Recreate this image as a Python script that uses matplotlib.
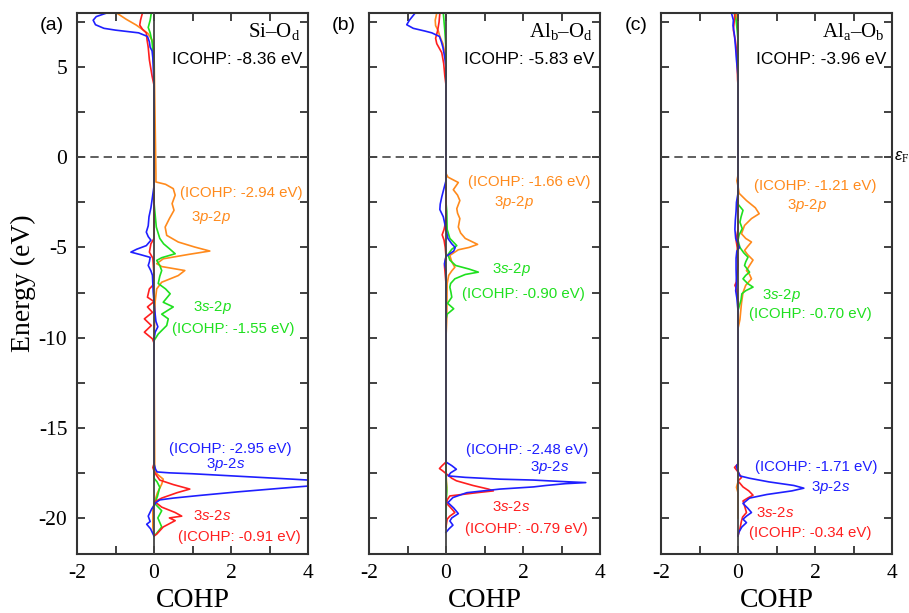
import matplotlib
matplotlib.use('Agg')
import matplotlib.pyplot as plt
from matplotlib.ticker import MultipleLocator

plt.rcParams['font.family'] = 'Liberation Serif'
plt.rcParams['mathtext.fontset'] = 'custom'
plt.rcParams['mathtext.rm'] = 'Liberation Serif'
plt.rcParams['mathtext.it'] = 'Liberation Sans:italic'
plt.rcParams['mathtext.sf'] = 'Liberation Sans'
plt.rcParams['axes.unicode_minus'] = False

# (energy eV, COHP) pairs, one list per orbital pair and panel
# panel (a) Si-Od
a_3s2s = [(8.0, -0.3), (7.6, -0.35), (7.33, -0.37), (7.1, -0.3), (6.9, -0.2), (6.5, -0.18),
          (6.1, -0.15), (5.4, -0.12), (4.5, -0.05), (4.0, 0.0),
          (-4.5, 0.0), (-4.8, -0.08), (-5.26, -0.12), (-5.6, -0.03), (-6.5, 0.0), (-7.1, -0.03),
          (-7.3, -0.12), (-7.76, -0.17), (-8.0, 0.0), (-8.3, -0.17), (-8.6, -0.04), (-8.96, -0.25),
          (-9.33, -0.07), (-9.7, -0.25), (-10.07, -0.04), (-10.3, 0.0),
          (-17.0, 0.0), (-17.2, -0.03), (-17.5, 0.02), (-17.9, 0.15), (-18.15, 0.5), (-18.4, 0.93),
          (-18.6, 0.6), (-18.9, 0.2), (-19.1, 0.02), (-19.4, 0.2), (-19.7, 0.55), (-19.9, 0.72),
          (-20.0, 0.4), (-20.15, 0.55), (-20.5, 0.24), (-20.9, 0.07), (-21.0, 0.0)]
a_3p2s = [(8.0, -1.23), (7.8, -1.5), (7.6, -1.58), (7.35, -1.52), (7.15, -1.3), (7.05, -1.0),
          (6.9, -0.4), (6.7, -0.17), (6.4, -0.12), (6.1, -0.1), (5.9, -0.05), (5.5, -0.03),
          (5.0, -0.02), (4.5, -0.01), (4.0, 0.0),
          (-1.6, 0.0), (-2.2, -0.04), (-2.8, -0.08), (-3.3, -0.13), (-3.8, -0.15), (-4.15, -0.2),
          (-4.4, -0.15), (-4.6, -0.08), (-4.9, -0.2), (-5.1, -0.45), (-5.26, -0.6), (-5.4, -0.35),
          (-5.55, -0.1), (-5.8, -0.12), (-6.0, -0.15), (-6.3, -0.08), (-6.55, -0.04), (-7.5, -0.02),
          (-8.5, 0.02), (-9.1, 0.05), (-9.4, 0.1), (-9.7, 0.03), (-10.1, 0.0),
          (-17.0, 0.0), (-17.3, 0.04), (-17.45, 0.08), (-17.5, 0.4), (-17.55, 1.0), (-17.7, 2.3),
          (-17.85, 3.6), (-18.0, 4.8), (-18.05, 5.0), (-18.1, 4.8), (-18.3, 3.6), (-18.55, 2.2),
          (-18.75, 1.2), (-18.9, 0.5), (-19.0, 0.15), (-19.15, 0.05), (-19.5, -0.06), (-19.9, -0.15),
          (-20.2, -0.1), (-20.35, -0.19), (-20.6, -0.09), (-21.0, 0.0)]
a_3s2p = [(8.0, -0.07), (7.6, -0.1), (7.2, -0.15), (6.9, -0.1), (6.4, -0.05), (5.0, 0.0),
          (-2.5, 0.0), (-3.87, 0.06), (-4.5, 0.15), (-4.8, 0.25), (-5.07, 0.4), (-5.35, 0.55),
          (-5.57, 0.2), (-5.72, 0.07), (-6.0, 0.15), (-6.28, 0.2), (-6.6, 0.15), (-7.0, 0.11),
          (-7.3, 0.3), (-7.57, 0.42), (-8.04, 0.24), (-8.3, 0.5), (-8.7, 0.2), (-8.96, 0.37),
          (-9.33, 0.33), (-9.8, 0.11), (-10.17, 0.0),
          (-17.8, 0.0), (-18.0, 0.08), (-18.3, 0.15), (-18.8, 0.09), (-19.2, 0.02), (-19.6, 0.2),
          (-20.0, 0.1), (-20.5, 0.2), (-20.9, 0.05), (-21.0, 0.0)]
a_3p2p = [(8.0, -0.97), (7.65, -0.72), (7.33, -0.46), (6.87, -0.16), (6.5, -0.05), (6.0, 0.0),
          (-0.9, 0.05), (-1.37, 0.05), (-1.5, 0.3), (-1.74, 0.5), (-2.1, 0.55), (-2.57, 0.47),
          (-2.94, 0.52), (-3.4, 0.4), (-3.87, 0.29), (-4.33, 0.33), (-4.7, 0.63), (-4.98, 1.06),
          (-5.2, 1.45), (-5.39, 0.89), (-5.63, 0.24), (-5.9, 0.07), (-6.06, 0.2), (-6.28, 0.8),
          (-6.56, 0.63), (-6.93, 0.2), (-7.3, 0.07), (-8.0, 0.03), (-9.0, 0.02), (-10.0, 0.0),
          (-17.4, 0.02), (-17.6, 0.1), (-17.85, 0.24), (-18.13, 0.2), (-18.6, 0.09), (-19.0, 0.03),
          (-19.5, -0.03), (-20.5, -0.03), (-21.0, 0.0)]

# panel (b) Alb-Od
b_3s2s = [(8.0, -0.16), (7.5, -0.18), (7.0, -0.22), (6.6, -0.27), (6.3, -0.24), (5.8, -0.11),
          (5.2, -0.06), (4.5, -0.03), (4.0, 0.0),
          (-3.5, 0.0), (-4.0, -0.05), (-4.3, -0.1), (-4.6, -0.05), (-5.0, -0.02), (-5.5, 0.0),
          (-6.0, -0.04), (-7.0, 0.0), (-10.0, 0.0),
          (-16.9, 0.0), (-17.1, -0.1), (-17.26, -0.17), (-17.4, -0.08), (-17.54, 0.0), (-17.8, 0.15),
          (-17.94, 0.27), (-18.2, 0.7), (-18.4, 1.1), (-18.5, 1.23), (-18.6, 0.8), (-18.78, 0.1),
          (-19.0, 0.03), (-19.2, 0.02), (-19.5, 0.15), (-19.7, 0.23), (-19.9, 0.1), (-20.07, 0.03),
          (-20.5, 0.0)]
b_3p2s = [(8.0, -0.8), (7.6, -0.95), (7.35, -1.02), (7.15, -0.85), (7.0, -0.55), (6.9, -0.37),
          (6.7, -0.17), (6.4, -0.12), (6.1, -0.08), (5.5, -0.03), (5.0, 0.0),
          (-1.3, 0.0), (-1.7, -0.05), (-2.2, -0.11), (-2.6, -0.15), (-2.9, -0.16), (-3.3, -0.07),
          (-3.7, -0.03), (-4.0, 0.0), (-4.5, 0.05), (-4.8, 0.15), (-5.0, 0.24), (-5.2, 0.2),
          (-5.5, 0.0), (-5.9, -0.04), (-6.3, 0.0), (-10.0, 0.0),
          (-16.9, 0.0), (-17.1, 0.15), (-17.3, 0.27), (-17.5, 0.12), (-17.67, 0.06), (-17.75, 0.5),
          (-17.85, 1.4), (-17.9, 2.27), (-17.98, 3.0), (-18.04, 3.63), (-18.1, 3.1), (-18.2, 2.6),
          (-18.28, 2.27), (-18.4, 1.4), (-18.6, 0.54), (-18.87, 0.18), (-19.15, 0.05), (-19.45, 0.2),
          (-19.76, 0.32), (-20.0, 0.15), (-20.17, 0.1), (-20.4, 0.18), (-20.6, 0.08), (-20.8, 0.0)]
b_3s2p = [(8.0, -0.07), (7.5, -0.05), (7.0, -0.03), (6.0, 0.0),
          (-2.5, 0.0), (-3.0, 0.02), (-4.0, 0.03), (-4.5, 0.1), (-4.9, 0.28), (-5.1, 0.15),
          (-5.4, 0.05), (-5.7, 0.1), (-6.0, 0.25), (-6.2, 0.6), (-6.37, 0.84), (-6.5, 0.5),
          (-6.74, 0.23), (-7.0, 0.12), (-7.2, 0.1), (-7.5, 0.13), (-7.76, 0.15), (-8.1, 0.04),
          (-8.4, 0.2), (-8.7, 0.03), (-9.0, 0.0),
          (-17.8, 0.0), (-18.5, 0.02), (-19.0, 0.01), (-20.0, 0.0)]
b_3p2p = [(8.0, -0.24), (7.6, -0.28), (7.3, -0.27), (7.0, -0.2), (6.7, -0.16), (6.3, -0.08),
          (5.8, -0.03), (5.0, 0.0),
          (-0.9, 0.0), (-1.1, 0.05), (-1.4, 0.32), (-1.8, 0.19), (-2.1, 0.3), (-2.4, 0.36),
          (-2.85, 0.28), (-3.1, 0.3), (-3.4, 0.36), (-3.87, 0.32), (-4.2, 0.38), (-4.5, 0.5),
          (-4.83, 0.82), (-5.0, 0.6), (-5.13, 0.32), (-5.44, 0.1), (-5.8, 0.15), (-6.1, 0.23),
          (-6.3, 0.15), (-6.55, 0.07), (-7.0, 0.03), (-9.0, 0.02), (-10.0, 0.0),
          (-17.5, 0.0), (-18.3, 0.02), (-19.0, 0.0)]

# panel (c) Ala-Ob
c_3s2s = [(8.0, -0.08), (7.5, -0.1), (7.05, -0.12), (6.5, -0.07), (5.95, -0.04), (5.0, -0.02),
          (4.3, -0.01), (4.0, 0.0),
          (-4.0, 0.0), (-4.6, -0.05), (-5.0, -0.02), (-6.0, 0.0), (-6.9, -0.04), (-7.1, -0.08),
          (-7.3, -0.04), (-8.0, 0.0),
          (-17.0, 0.0), (-17.2, -0.09), (-17.45, 0.0), (-17.76, 0.09), (-17.95, 0.0), (-18.28, 0.13),
          (-18.5, 0.28), (-18.74, 0.39), (-18.9, 0.25), (-19.06, 0.13), (-19.4, 0.18), (-19.7, 0.22),
          (-19.95, 0.12), (-20.17, 0.09), (-20.6, 0.05), (-21.0, 0.0)]
c_3p2s = [(8.0, -0.17), (7.6, -0.12), (7.3, -0.13), (6.9, -0.1), (6.5, -0.08), (6.0, -0.06),
          (5.4, -0.04), (4.5, 0.0),
          (-2.0, 0.0), (-2.5, -0.04), (-3.0, -0.05), (-3.5, -0.07), (-4.0, -0.08), (-4.5, -0.06),
          (-5.0, 0.04), (-5.2, -0.03), (-5.6, -0.05), (-6.2, -0.05), (-7.0, -0.04), (-7.4, -0.06),
          (-7.8, -0.03), (-8.5, 0.0),
          (-17.0, 0.0), (-17.1, -0.04), (-17.3, -0.02), (-17.67, 0.05), (-17.8, 0.3), (-18.0, 0.8),
          (-18.2, 1.45), (-18.35, 1.71), (-18.5, 1.4), (-18.7, 0.75), (-18.9, 0.3), (-19.2, 0.13),
          (-19.45, 0.25), (-19.7, 0.35), (-19.9, 0.22), (-20.07, 0.13), (-20.26, 0.22), (-20.5, 0.1),
          (-20.8, 0.02), (-21.0, 0.0)]
c_3s2p = [(8.0, -0.1), (7.6, -0.05), (7.0, -0.02), (6.5, 0.0),
          (-2.6, 0.0), (-2.94, 0.13), (-3.3, 0.08), (-3.6, 0.05), (-3.96, 0.11), (-4.3, 0.03),
          (-4.6, 0.0), (-5.0, 0.05), (-5.3, 0.15), (-5.54, 0.26), (-5.8, 0.2), (-6.0, 0.17),
          (-6.37, 0.3), (-6.55, 0.2), (-6.74, 0.13), (-7.0, 0.25), (-7.2, 0.39), (-7.4, 0.2),
          (-7.57, 0.1), (-7.9, 0.08), (-8.5, 0.0)]
c_3p2p = [(8.0, -0.05), (7.5, -0.03), (7.0, 0.0),
          (-1.0, 0.0), (-1.3, -0.03), (-1.6, 0.0), (-2.0, 0.03), (-2.4, 0.22), (-2.8, 0.45),
          (-3.13, 0.55), (-3.4, 0.35), (-3.78, 0.17), (-4.24, 0.09), (-4.5, 0.2), (-4.7, 0.35),
          (-4.95, 0.25), (-5.17, 0.17), (-5.4, 0.25), (-5.7, 0.39), (-6.0, 0.3), (-6.28, 0.22),
          (-6.5, 0.3), (-6.74, 0.35), (-7.1, 0.2), (-7.5, 0.13), (-8.1, 0.09), (-9.0, 0.05),
          (-9.5, 0.0),
          (-18.0, 0.0), (-18.3, -0.04), (-18.6, 0.0), (-20.0, 0.0)]

panel_tags = ['(a)', '(b)', '(c)']
bond_names = ['Si\u2013O$_\\mathrm{d}$', 'Al$_\\mathrm{b}$\u2013O$_\\mathrm{d}$', 'Al$_\\mathrm{a}$\u2013O$_\\mathrm{b}$']
total_icohp = [-8.36, -5.83, -3.96]
icohp_3p2p = [-2.94, -1.66, -1.21]
icohp_3s2p = [-1.55, -0.90, -0.70]
icohp_3p2s = [-2.95, -2.48, -1.71]
icohp_3s2s = [-0.91, -0.79, -0.34]

series = [[a_3p2p, a_3s2p, a_3s2s, a_3p2s],
          [b_3p2p, b_3s2p, b_3s2s, b_3p2s],
          [c_3p2p, c_3s2p, c_3s2s, c_3p2s]]

orange = '#ff8a1c'
green = '#1fe01f'
red = '#ff1f1f'
blue = '#1f1fff'
line_colors = [orange, green, red, blue]
sans = 'Liberation Sans'

# label anchor points (data coords) per panel: 3p-2p, 3s-2p, 3p-2s, 3s-2s
lab_pos = [
    dict(op_i=(2.27, -2.0), op=(1.48, -3.33), gp=(1.52, -8.33), gp_i=(2.05, -9.5),
         bp_i=(1.99, -16.17), bp=(1.87, -17.06), rp=(1.52, -19.9), rp_i=(2.22, -21.06)),
    dict(op_i=(2.17, -1.39), op=(1.77, -2.5), gp=(1.71, -6.22), gp_i=(2.01, -7.56),
         bp_i=(2.12, -16.22), bp=(2.70, -17.22), rp=(1.69, -19.39), rp_i=(2.09, -20.61)),
    dict(op_i=(2.01, -1.61), op=(1.78, -2.67), gp=(1.14, -7.67), gp_i=(1.88, -8.67),
         bp_i=(2.03, -17.17), bp=(2.41, -18.32), rp=(0.96, -19.7), rp_i=(1.88, -20.82)),
]

fig = plt.figure(figsize=(9.09, 6.13), dpi=100)
lefts = [77, 369, 661]
for i in range(3):
    ax = fig.add_axes([lefts[i] / 909, 59 / 613, 231 / 909, 541 / 613])
    for data, col in zip(series[i], line_colors):
        e = [p[0] for p in data]
        c = [p[1] for p in data]
        ax.plot(c, e, color=col, lw=1.2, zorder=2)
    ax.axvline(0, color='#444444', lw=1.3, zorder=3)
    ax.axhline(0, color='#444444', lw=1.2, ls=(0, (5, 3)), zorder=3)
    ax.set_xlim(-2, 4)
    ax.set_ylim(-22, 8)
    ax.xaxis.set_major_locator(MultipleLocator(2))
    ax.xaxis.set_minor_locator(MultipleLocator(1))
    ax.yaxis.set_major_locator(MultipleLocator(5))
    ax.yaxis.set_minor_locator(MultipleLocator(2.5))
    ax.tick_params(which='both', direction='in', top=True, right=True, width=1.3,
                   colors='#333333', labelcolor='black')
    ax.tick_params(which='major', length=6, labelsize=15.5, pad=7)
    ax.tick_params(which='minor', length=6)
    if i > 0:
        ax.tick_params(labelleft=False)
    for s in ax.spines.values():
        s.set_linewidth(1.5)
        s.set_color('#333333')
    ax.set_xlabel('COHP', fontsize=20, labelpad=4)
    if i == 0:
        ax.set_ylabel('Energy (eV)', fontsize=20, labelpad=2)

    fig.text((lefts[i] - 25) / 909, 1 - 26 / 613, panel_tags[i], family=sans,
             fontsize=14, ha='center', va='center')
    ax.text(3.8, 6.9, bond_names[i], fontsize=15, ha='right', va='center')
    ax.text(3.86, 5.4, f'ICOHP: {total_icohp[i]:.2f} eV', family=sans, fontsize=12.5,
            ha='right', va='center')

    lp = lab_pos[i]
    fs = 10.8
    ax.text(*lp['op_i'], f'(ICOHP: {icohp_3p2p[i]:.2f} eV)', color=orange, family=sans,
            fontsize=fs, ha='center', va='center')
    ax.text(*lp['op'], '3$p$-2$p$', color=orange, family=sans, fontsize=fs, ha='center', va='center')
    ax.text(*lp['gp'], '3$s$-2$p$', color=green, family=sans, fontsize=fs, ha='center', va='center')
    ax.text(*lp['gp_i'], f'(ICOHP: {icohp_3s2p[i]:.2f} eV)', color=green, family=sans,
            fontsize=fs, ha='center', va='center')
    ax.text(*lp['bp_i'], f'(ICOHP: {icohp_3p2s[i]:.2f} eV)', color=blue, family=sans,
            fontsize=fs, ha='center', va='center')
    ax.text(*lp['bp'], '3$p$-2$s$', color=blue, family=sans, fontsize=fs, ha='center', va='center')
    ax.text(*lp['rp'], '3$s$-2$s$', color=red, family=sans, fontsize=fs, ha='center', va='center')
    ax.text(*lp['rp_i'], f'(ICOHP: {icohp_3s2s[i]:.2f} eV)', color=red, family=sans,
            fontsize=fs, ha='center', va='center')
    if i == 2:
        # Fermi level marker just outside the right spine
        ax.text(4.06, 0, '$\\varepsilon_\\mathrm{F}$', fontsize=12, ha='left', va='center',
                clip_on=False)

fig.savefig('out.png', dpi=100)
